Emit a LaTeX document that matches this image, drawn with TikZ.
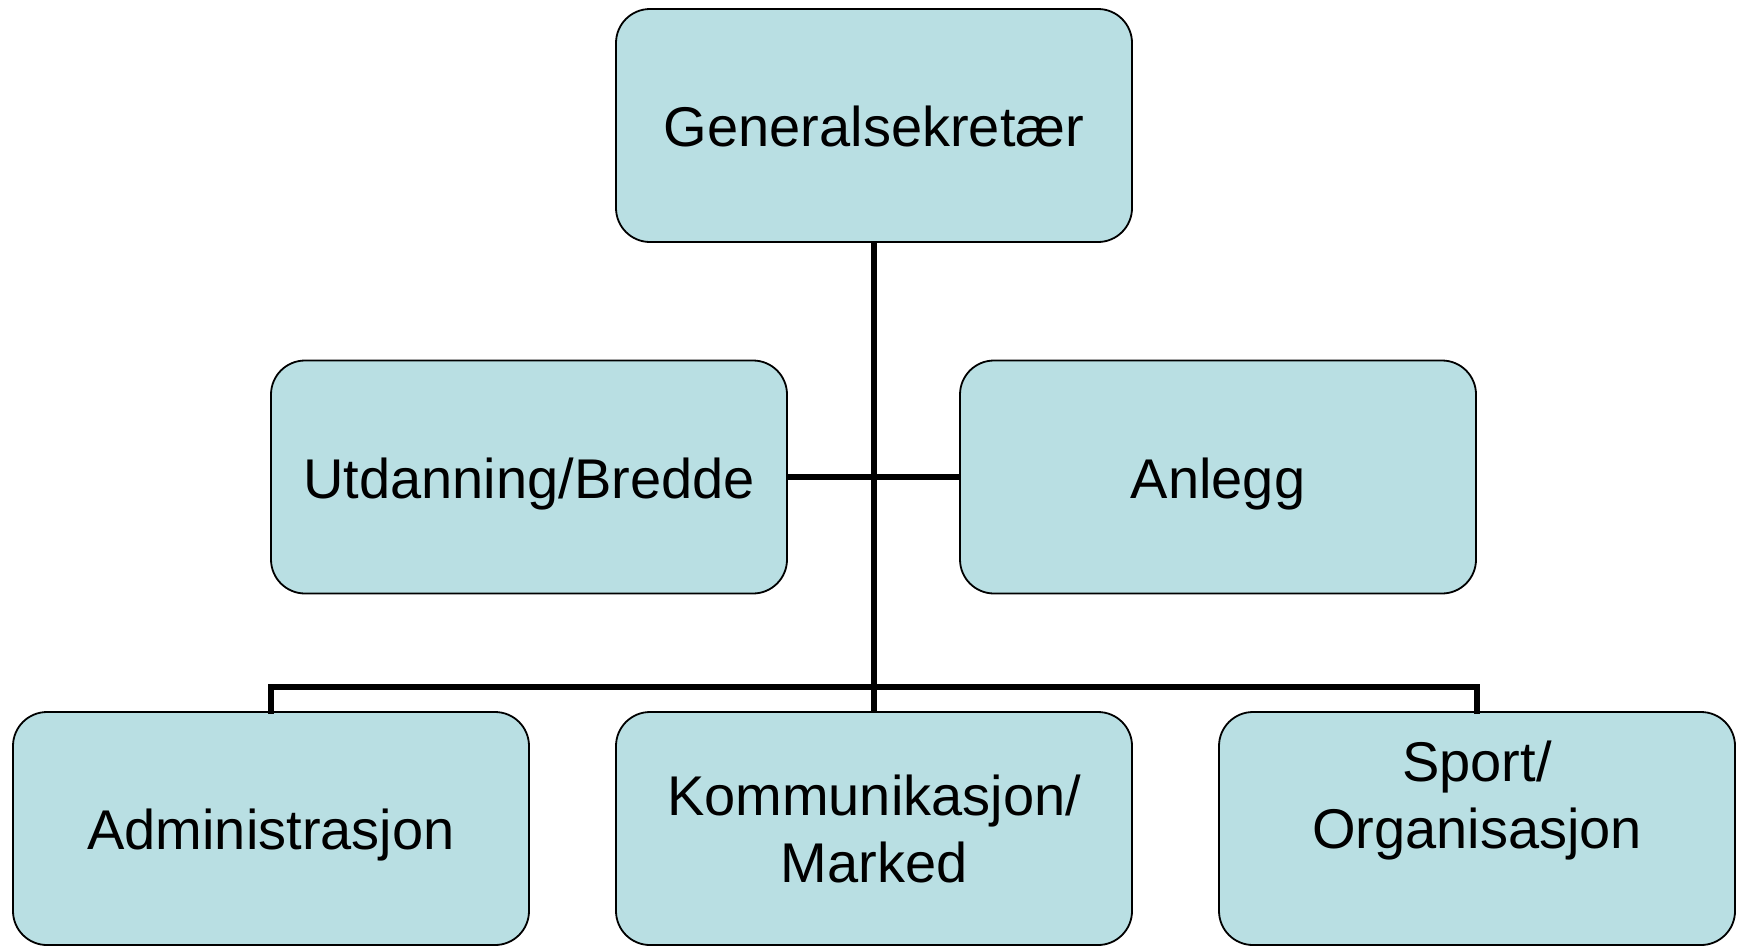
\documentclass[tikz,border=0pt]{standalone}
\usepackage{fontspec}
\setmainfont{Liberation Sans}
\definecolor{boxfill}{RGB}{185,223,227}
\begin{document}
\begin{tikzpicture}[x=1pt,y=-1pt,
  orgbox/.style={draw=black, line width=1.8pt, fill=boxfill, rounded corners=34pt,
    minimum width=516pt, minimum height=233pt, text width=490pt, align=center,
    inner sep=0pt, font=\fontsize{56}{67}\selectfont},
  oneline/.style={text height=53pt, text depth=11pt},
  link/.style={line width=6.5pt, draw=black}]
\useasboundingbox (0,0) rectangle (1744,945);
\node[orgbox,oneline] (gs) at (874,125.5) {Generalsekretær};
\node[orgbox,oneline] (ub) at (529,477) {Utdanning/Bredde};
\node[orgbox,oneline] (an) at (1218,477) {Anlegg};
\node[orgbox,oneline] (ad) at (271,828.5) {Administrasjon};
\node[orgbox] (km) at (874,828.5) {Kommunikasjon/\\Marked};
\node[orgbox] (so) at (1477,828.5) {Sport/\\Organisasjon\\\mbox{}};
\coordinate (bus) at (874,687);
\draw[link] (gs.south) -- (km.north);
\draw[link] (ub.east) -- (an.west);
\draw[link,line cap=rect] (ad.north) |- (bus) -| (so.north);
\end{tikzpicture}
\end{document}
